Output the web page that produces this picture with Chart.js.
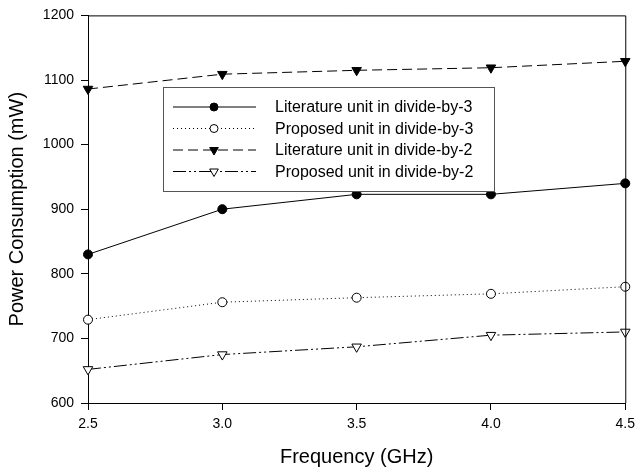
<!DOCTYPE html>
<html>
<head>
<meta charset="utf-8">
<script src="https://cdn.jsdelivr.net/npm/chart.js@4/dist/chart.umd.min.js"></script>
<style>
  html, body { margin: 0; padding: 0; background: #fff; }
  #wrap { width: 641px; height: 472px; }
</style>
</head>
<body>
<div id="wrap"><canvas id="grafico" width="641" height="472"></canvas></div>
<script>
// dados
const frequencias = [2.5, 3.0, 3.5, 4.0, 4.5];
const literaturaDiv3 = [830, 900, 923, 923, 940];
const propostoDiv3 = [729, 756, 763, 769, 780];
const literaturaDiv2 = [1086, 1109, 1115, 1119, 1129];
const propostoDiv2 = [652, 675, 687, 705, 710];
const rotulos = [
  'Literature unit in divide-by-3',
  'Proposed unit in divide-by-3',
  'Literature unit in divide-by-2',
  'Proposed unit in divide-by-2'
];
const ticksY = [600, 700, 800, 900, 1000, 1100, 1200];

const fonte = 'Liberation Sans, Arial, sans-serif';

function pontos(valores) {
  return frequencias.map((f, i) => ({ x: f, y: valores[i] }));
}

function serie(label, valores, estilo) {
  return Object.assign({
    label: label,
    data: pontos(valores),
    borderColor: '#000',
    borderWidth: 1,
    pointBorderColor: '#000',
    pointBorderWidth: 1,
    pointRadius: 4.5,
    tension: 0,
    fill: false,
    clip: false
  }, estilo);
}

const datasets = [
  serie(rotulos[0], literaturaDiv3, { borderDash: [], pointStyle: 'circle', pointBackgroundColor: '#000' }),
  serie(rotulos[1], propostoDiv3, { borderDash: [1, 3], pointStyle: 'circle', pointBackgroundColor: '#fff' }),
  serie(rotulos[2], literaturaDiv2, { borderDash: [10, 5], pointStyle: 'triangle', pointRotation: 180, pointBackgroundColor: '#000', pointRadius: 5.5 }),
  serie(rotulos[3], propostoDiv2, { borderDash: [13, 3, 2, 3, 2, 3], pointStyle: 'triangle', pointRotation: 180, pointBackgroundColor: '#fff', pointRadius: 5.5 })
];

// moldura do gráfico (topo e direita)
const moldura = {
  id: 'moldura',
  afterDatasetsDraw(chart) {
    const { ctx, chartArea: a } = chart;
    ctx.save();
    ctx.strokeStyle = '#000';
    ctx.lineWidth = 1;
    ctx.beginPath();
    ctx.moveTo(a.left, a.top + 0.5);
    ctx.lineTo(a.right + 0.5, a.top + 0.5);
    ctx.lineTo(a.right + 0.5, a.bottom);
    ctx.stroke();
    ctx.restore();
  }
};

// legenda dentro da área do gráfico
const legendaInterna = {
  id: 'legendaInterna',
  afterDraw(chart) {
    const ctx = chart.ctx;
    const box = { x: 163.5, y: 87.5, w: 331, h: 104 };
    ctx.save();
    ctx.fillStyle = '#fff';
    ctx.fillRect(box.x, box.y, box.w, box.h);
    ctx.strokeStyle = '#555';
    ctx.lineWidth = 1;
    ctx.strokeRect(box.x, box.y, box.w, box.h);
    ctx.font = '16px ' + fonte;
    ctx.textBaseline = 'middle';
    chart.data.datasets.forEach((ds, i) => {
      const y = 107 + i * 21.5;
      ctx.strokeStyle = '#000';
      ctx.lineWidth = 1;
      ctx.setLineDash(ds.borderDash || []);
      ctx.beginPath();
      ctx.moveTo(173, y);
      ctx.lineTo(256, y);
      ctx.stroke();
      ctx.setLineDash([]);
      ctx.fillStyle = ds.pointBackgroundColor;
      Chart.helpers.drawPoint(ctx, {
        pointStyle: ds.pointStyle,
        rotation: ds.pointRotation || 0,
        radius: ds.pointRadius - 0.5,
        borderWidth: 1
      }, 214, y);
      ctx.fillStyle = '#000';
      ctx.fillText(ds.label, 275, y + 1);
    });
    ctx.restore();
  }
};

new Chart(document.getElementById('grafico').getContext('2d'), {
  type: 'line',
  data: { datasets: datasets },
  options: {
    responsive: false,
    animation: false,
    layout: { padding: { top: 15, right: 11, left: 0, bottom: 0 } },
    plugins: {
      legend: { display: false },
      tooltip: { enabled: false }
    },
    scales: {
      x: {
        type: 'linear',
        min: 2.5,
        max: 4.5,
        afterFit: s => { s.height = 69; },
        afterBuildTicks: s => { s.ticks = frequencias.map(v => ({ value: v })); },
        ticks: {
          color: '#000',
          font: { family: fonte, size: 14 },
          padding: 6,
          callback: v => v.toFixed(1)
        },
        grid: { drawOnChartArea: false, drawTicks: true, tickLength: 7, color: '#000' },
        border: { display: true, color: '#000', width: 1 },
        title: {
          display: true,
          text: 'Frequency (GHz)',
          color: '#000',
          font: { family: fonte, size: 20 },
          padding: { top: 0, bottom: 3 }
        }
      },
      y: {
        min: 600,
        max: 1200,
        afterFit: s => { s.width = 88; },
        afterBuildTicks: s => { s.ticks = ticksY.map(v => ({ value: v })); },
        ticks: {
          color: '#000',
          font: { family: fonte, size: 14 },
          padding: 7,
          callback: v => String(v)
        },
        grid: { drawOnChartArea: false, drawTicks: true, tickLength: 7, color: '#000' },
        border: { display: true, color: '#000', width: 1 },
        title: {
          display: true,
          text: 'Power Consumption (mW)',
          color: '#000',
          font: { family: fonte, size: 20 },
          padding: { top: 5, bottom: 0 }
        }
      }
    }
  },
  plugins: [moldura, legendaInterna]
});
</script>
</body>
</html>
